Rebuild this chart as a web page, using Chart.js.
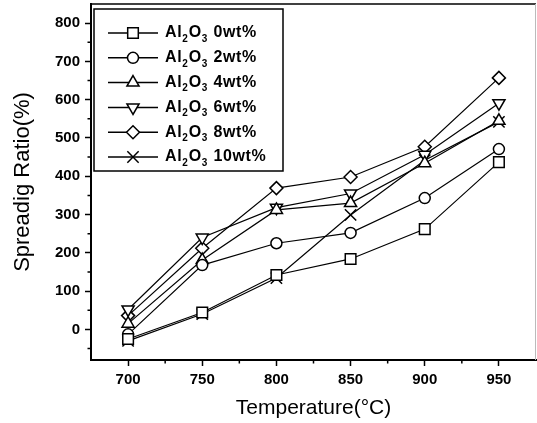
<!DOCTYPE html>
<html>
<head>
<meta charset="utf-8">
<script src="https://cdn.jsdelivr.net/npm/chart.js@4/dist/chart.umd.min.js"></script>
<style>
  html, body { margin: 0; padding: 0; background: #fff; }
  #wrap { width: 537px; height: 423px; }
</style>
</head>
<body>
<div id="wrap"><canvas id="spreadChart"></canvas></div>
<script>
// Spreading ratio vs temperature for Al2O3 additions

const temps = [700, 750, 800, 850, 900, 950];
const wt0  = [-25, 44, 142, 184, 262, 437];
const wt2  = [-13, 168, 225, 252, 343, 471];
const wt4  = [15, 181, 312, 330, 434, 545];
const wt6  = [52, 240, 318, 355, 456, 591];
const wt8  = [36, 212, 369, 398, 477, 657];
const wt10 = [-30, 40, 134, 299, 442, 542];

const seriesLabels = ['Al₂O₃ 0wt%', 'Al₂O₃ 2wt%', 'Al₂O₃ 4wt%', 'Al₂O₃ 6wt%', 'Al₂O₃ 8wt%', 'Al₂O₃ 10wt%'];
const xTicks = [700, 750, 800, 850, 900, 950];
const xMinor = [725, 775, 825, 875, 925];
const yTicks = [0, 100, 200, 300, 400, 500, 600, 700, 800];
const yMinor = [-50, 50, 150, 250, 350, 450, 550, 650, 750];

const seriesData = [wt0, wt2, wt4, wt6, wt8, wt10];
const markers = [
    {style: 'rect', radius: 7.5, rotation: 0},
    {style: 'circle', radius: 5.5, rotation: 0},
    {style: 'triangle', radius: 7, rotation: 0},
    {style: 'triangle', radius: 7, rotation: 180},
    {style: 'rectRot', radius: 6.5, rotation: 0},
    {style: 'crossRot', radius: 8, rotation: 0}
];

const datasets = [];
for (var i = 0; i < seriesData.length; i++) {
    datasets.push({
        label: seriesLabels[i],
        data: temps.map(function(t, j){ return {x: t, y: seriesData[i][j]}; }),
        borderColor: '#000',
        borderWidth: 1.2,
        pointStyle: markers[i].style,
        pointRadius: markers[i].radius,
        pointRotation: markers[i].rotation,
        pointBorderWidth: 1.5,
        pointBackgroundColor: '#fff',
        pointBorderColor: '#000',
        tension: 0
    });
}

// draws box top/right edges, minor ticks and the legend with subscripts
const framePlugin = {
    id: 'frame',
    afterDraw(chart) {
        const ctx = chart.ctx;
        const a = chart.chartArea;
        const xs = chart.scales.x, ys = chart.scales.y;
        ctx.save();
        ctx.strokeStyle = '#000';
        ctx.lineWidth = 1.5;
        ctx.beginPath();
        ctx.moveTo(a.left, a.top);
        ctx.lineTo(a.right, a.top);
        ctx.stroke();
        ctx.strokeStyle = '#bbb';
        ctx.lineWidth = 1;
        ctx.beginPath();
        ctx.moveTo(a.right - 0.5, a.top);
        ctx.lineTo(a.right - 0.5, a.bottom);
        ctx.stroke();

        ctx.strokeStyle = '#000';
        ctx.lineWidth = 1.5;
        ctx.beginPath();
        xMinor.forEach(function(v){
            const px = xs.getPixelForValue(v);
            ctx.moveTo(px, a.bottom);
            ctx.lineTo(px, a.bottom + 3.5);
        });
        yMinor.forEach(function(v){
            const py = ys.getPixelForValue(v);
            ctx.moveTo(a.left, py);
            ctx.lineTo(a.left - 3.5, py);
        });
        ctx.stroke();

        // legend
        const bx = 94, by = 9, bw = 189, bh = 162;
        ctx.fillStyle = '#fff';
        ctx.fillRect(bx, by, bw, bh);
        ctx.lineWidth = 1.5;
        ctx.strokeRect(bx, by, bw, bh);
        chart.data.datasets.forEach(function(ds, i){
            const ry = 33 + i * 24.8;
            ctx.strokeStyle = '#000';
            ctx.lineWidth = 1.5;
            ctx.beginPath();
            ctx.moveTo(108, ry);
            ctx.lineTo(158, ry);
            ctx.stroke();
            ctx.fillStyle = '#fff';
            ctx.lineWidth = 1.5;
            Chart.helpers.drawPoint(ctx, {
                pointStyle: ds.pointStyle,
                radius: ds.pointRadius,
                rotation: ds.pointRotation,
                borderWidth: 1.5
            }, 133, ry);
            // label text with subscripts
            let tx = 165;
            ctx.fillStyle = '#000';
            ctx.textBaseline = 'middle';
            for (const ch of ds.label) {
                if (ch === '₂' || ch === '₃') {
                    ctx.font = 'bold 10px "Liberation Sans", Arial, sans-serif';
                    const d = ch === '₂' ? '2' : '3';
                    ctx.fillText(d, tx, ry + 6);
                    tx += ctx.measureText(d).width + 1;
                } else {
                    ctx.font = 'bold 16px "Liberation Sans", Arial, sans-serif';
                    ctx.fillText(ch, tx, ry);
                    tx += ctx.measureText(ch).width + 0.6;
                }
            }
        });
        ctx.restore();
    }
};

const ctx = document.getElementById('spreadChart').getContext('2d');
const spreadChart = new Chart(ctx, {
    type: 'line',
    data: { datasets: datasets },
    options: {
        responsive: true,
        maintainAspectRatio: false,
        animation: false,
        layout: { autoPadding: false, padding: { left: 0, top: 4, right: 1, bottom: 0 } },
        plugins: {
            legend: { display: false },
            tooltip: { enabled: false }
        },
        scales: {
            x: {
                type: 'linear',
                min: 675,
                max: 975,
                afterBuildTicks: function(s){ s.ticks = xTicks.map(function(v){ return {value: v}; }); },
                afterFit: function(s){ s.height = 63; s.paddingLeft = 0; s.paddingRight = 0; },
                grid: { drawOnChartArea: false, tickLength: 6, tickWidth: 1.5, tickColor: '#000' },
                border: { color: '#000', width: 2 },
                ticks: {
                    color: '#000',
                    padding: 5,
                    maxRotation: 0,
                    font: { family: '"Liberation Sans", Arial, sans-serif', size: 15, weight: 'bold' }
                },
                title: {
                    display: true,
                    text: 'Temperature(°C)',
                    color: '#000',
                    padding: { top: 0, bottom: 2 },
                    font: { family: '"Liberation Sans", Arial, sans-serif', size: 21 }
                }
            },
            y: {
                min: -80,
                max: 850,
                afterBuildTicks: function(s){ s.ticks = yTicks.map(function(v){ return {value: v}; }); },
                afterFit: function(s){ s.width = 91; s.paddingTop = 0; s.paddingBottom = 0; },
                grid: { drawOnChartArea: false, tickLength: 6, tickWidth: 1.5, tickColor: '#000' },
                border: { color: '#000', width: 2 },
                ticks: {
                    color: '#000',
                    padding: 5,
                    font: { family: '"Liberation Sans", Arial, sans-serif', size: 15, weight: 'bold' }
                },
                title: {
                    display: true,
                    text: 'Spreadig Ratio(%)',
                    color: '#000',
                    padding: { top: 10, bottom: 0 },
                    font: { family: '"Liberation Sans", Arial, sans-serif', size: 22 }
                }
            }
        }
    },
    plugins: [framePlugin]
});
</script>
</body>
</html>
